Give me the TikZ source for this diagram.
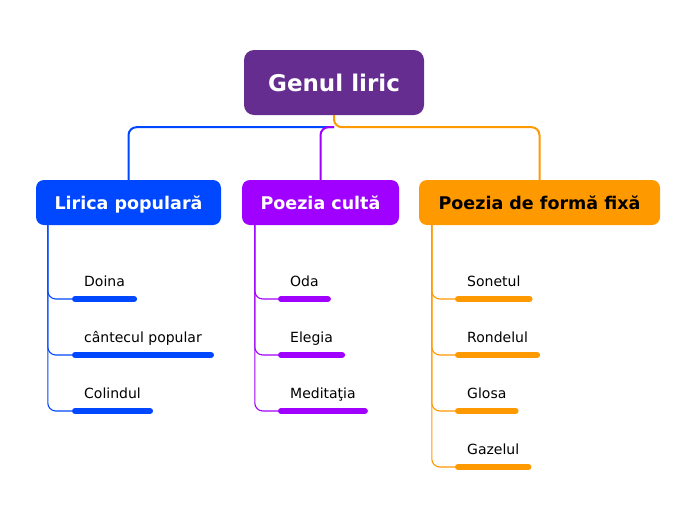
\documentclass[tikz,border=0pt]{standalone}
\usepackage{fontspec}
\setmainfont{DejaVu Sans}
\usetikzlibrary{positioning}
\definecolor{rootpurple}{HTML}{662D91}
\definecolor{folkblue}{HTML}{0048FF}
\definecolor{cultviolet}{HTML}{A000FF}
\definecolor{fixorange}{HTML}{FF9900}

\begin{document}
\begin{tikzpicture}[x=1pt, y=-1pt,
    rootbox/.style={fill=rootpurple, text=white, rounded corners=10pt,
      minimum width=180pt, minimum height=65pt, inner sep=0pt,
      font=\fontsize{23}{26}\selectfont\bfseries},
    branchbox/.style={rounded corners=8pt, minimum height=45pt, inner sep=0pt,
      text height=14pt, text depth=0pt,
      font=\fontsize{17.5}{20}\selectfont\bfseries},
    leaf/.style={anchor=south west, inner xsep=12pt, inner ysep=8.5pt,
      text height=10pt, text depth=3.5pt, font=\fontsize{14}{16}\selectfont},
    uline/.style={line width=6pt, line cap=round},
    trunk/.style={line width=2pt, rounded corners=8pt},
    twig/.style={line width=1.1pt, rounded corners=8pt}]

    %% ── Page frame ─────────────────────────────────────────────────────
    \useasboundingbox[fill=white] (0,0) rectangle (696,520);

    %% ═══ Central topic ═════════════════════════════════════════════════
    \node[rootbox] (root) at (334, 82.5) {Genul liric};

    %% ═══ Main branches ═════════════════════════════════════════════════
    \node[branchbox, fill=folkblue, text=white, minimum width=185pt]
      (lp) at (128.5, 202.5) {Lirica populară};
    \node[branchbox, fill=cultviolet, text=white, minimum width=157pt]
      (pc) at (320.5, 202.5) {Poezia cultă};
    \node[branchbox, fill=fixorange, text=black, minimum width=241pt]
      (pf) at (539.5, 202.5) {Poezia de formă fixă};

    %% connectors root -> branches
    \path (root.south) ++(0,12) coordinate (hub);
    \draw[trunk, folkblue]   (hub) -| (lp.north);
    \draw[trunk, cultviolet] (hub) -| (pc.north);
    \draw[trunk, fixorange]  (root.south) -- (hub) -| (pf.north);

    %% ═══ Lirica populara ═══════════════════════════════════════════════
    \node[leaf] (doina) at (72, 299) {Doina};
    \node[leaf] (cant)  at (72, 355) {cântecul popular};
    \node[leaf] (colin) at (72, 411) {Colindul};

    \foreach \lf in {doina, cant, colin} {
      \draw[twig, folkblue] ([xshift=12pt]lp.south west) |- (\lf.south west);
      \draw[uline, folkblue] ([xshift=3pt]\lf.south west)
        -- ([xshift=-3pt]\lf.south east);
    }

    %% ═══ Poezia culta ══════════════════════════════════════════════════
    \node[leaf] (oda)   at (278, 299) {Oda};
    \node[leaf] (eleg)  at (278, 355) {Elegia};
    \node[leaf] (medit) at (278, 411) {Meditaţia};

    \foreach \lf in {oda, eleg, medit} {
      \draw[twig, cultviolet] ([xshift=13pt]pc.south west) |- (\lf.south west);
      \draw[uline, cultviolet] ([xshift=3pt]\lf.south west)
        -- ([xshift=-3pt]\lf.south east);
    }

    %% ═══ Poezia de forma fixa ══════════════════════════════════════════
    \node[leaf] (sonet) at (455, 299) {Sonetul};
    \node[leaf] (rond)  at (455, 355) {Rondelul};
    \node[leaf] (glosa) at (455, 411) {Glosa};
    \node[leaf] (gazel) at (455, 467) {Gazelul};

    \foreach \lf in {sonet, rond, glosa, gazel} {
      \draw[twig, fixorange] ([xshift=13pt]pf.south west) |- (\lf.south west);
      \draw[uline, fixorange] ([xshift=3pt]\lf.south west)
        -- ([xshift=-3pt]\lf.south east);
    }

\end{tikzpicture}
\end{document}
